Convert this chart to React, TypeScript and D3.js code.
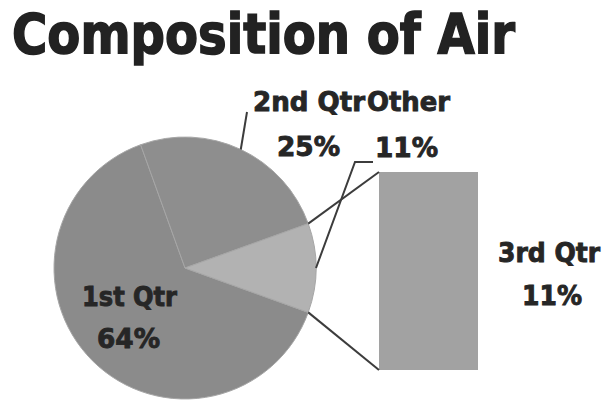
import React from "react";
import * as d3 from "d3";

const title = "Composition of Air";
const pieLabels = ["1st Qtr", "2nd Qtr", "Other"];
const pieValues = [64, 25, 11];
const barLabels = ["3rd Qtr"];
const barValues = [11];

const W = 604;
const H = 400;
const cx = 185;
const cy = 268;
const R = 131;
const pieColors = ["#8b8b8b", "#8e8e8e", "#b2b2b2"];
const barColor = "#a2a2a2";
const textColor = "#262626";
const lineColor = "#3c3c3c";
const FONT = "'DejaVu Sans', Verdana, sans-serif";

export default function App() {
  const deg = Math.PI / 180;
  const total = d3.sum(pieValues);
  const otherSpan = (pieValues[2] / total) * 360;
  const start = (90 + otherSpan / 2) * deg;
  const pie = d3.pie<number>().sort(null).startAngle(start).endAngle(start + 2 * Math.PI);
  const arcs = pie(pieValues);
  const arc = d3.arc<d3.PieArcDatum<number>>().innerRadius(0).outerRadius(R);

  const pt = (a: number, r: number) => [cx + r * Math.sin(a), cy - r * Math.cos(a)];

  const barX0 = 379;
  const barX1 = 478;
  const y = d3.scaleLinear().domain([0, d3.sum(barValues)]).range([370, 172]);

  const other = arcs[2];
  const oStart = pt(other.startAngle, R);
  const oEnd = pt(other.endAngle, R);
  const oMid = pt((other.startAngle + other.endAngle) / 2, R);
  const second = arcs[1];
  const sMid = pt((second.startAngle + second.endAngle) / 2, R);

  const pct = (v: number) => `${Math.round((v / total) * 100)}%`;

  const lab = {
    fontFamily: FONT,
    fontWeight: 700,
    fill: textColor,
    fontSize: 26,
    stroke: textColor,
    strokeWidth: 0.9,
  } as const;

  return (
    <svg width={W} height={H} style={{ position: "absolute", left: 0, top: 0, background: "#fff" }}>
      <text x={12} y={53} fontFamily={FONT} fontWeight={700} fontSize={55} fill="#222" stroke="#222" strokeWidth={1.6} textLength={503} lengthAdjust="spacingAndGlyphs">
        {title}
      </text>
      <g>
        {arcs.map((a, i) => (
          <path key={i} d={arc(a) || ""} transform={`translate(${cx},${cy})`} fill={pieColors[i]} stroke="#a6a6a6" strokeWidth={1} />
        ))}
      </g>
      {barValues.map((v, i) => (
        <rect key={i} x={barX0} y={y(v)} width={barX1 - barX0} height={y(0) - y(v)} fill={barColor} />
      ))}
      <line x1={oStart[0]} y1={oStart[1]} x2={barX0} y2={y(barValues[0])} stroke={lineColor} strokeWidth={2} />
      <line x1={oEnd[0]} y1={oEnd[1]} x2={barX0} y2={y(0)} stroke={lineColor} strokeWidth={2} />
      <polyline points={`${sMid[0]},${sMid[1]} 247,112`} fill="none" stroke={lineColor} strokeWidth={2} />
      <polyline points={`${oMid[0]},${oMid[1]} 355,162 373,162`} fill="none" stroke={lineColor} strokeWidth={2} />

      <text {...lab} x={253} y={111} textLength={112} lengthAdjust="spacingAndGlyphs">{pieLabels[1]}</text>
      <text {...lab} x={277} y={156} textLength={63} lengthAdjust="spacingAndGlyphs">{pct(pieValues[1])}</text>
      <text {...lab} x={367} y={111} textLength={83} lengthAdjust="spacingAndGlyphs">{pieLabels[2]}</text>
      <text {...lab} x={375} y={157} textLength={63} lengthAdjust="spacingAndGlyphs">{pct(pieValues[2])}</text>
      <text {...lab} x={82} y={306} textLength={95} lengthAdjust="spacingAndGlyphs">{pieLabels[0]}</text>
      <text {...lab} x={97} y={348} textLength={63} lengthAdjust="spacingAndGlyphs">{pct(pieValues[0])}</text>
      <text {...lab} x={498} y={262} textLength={102} lengthAdjust="spacingAndGlyphs">{barLabels[0]}</text>
      <text {...lab} x={522} y={305} textLength={60} lengthAdjust="spacingAndGlyphs">{pct(barValues[0])}</text>
    </svg>
  );
}
